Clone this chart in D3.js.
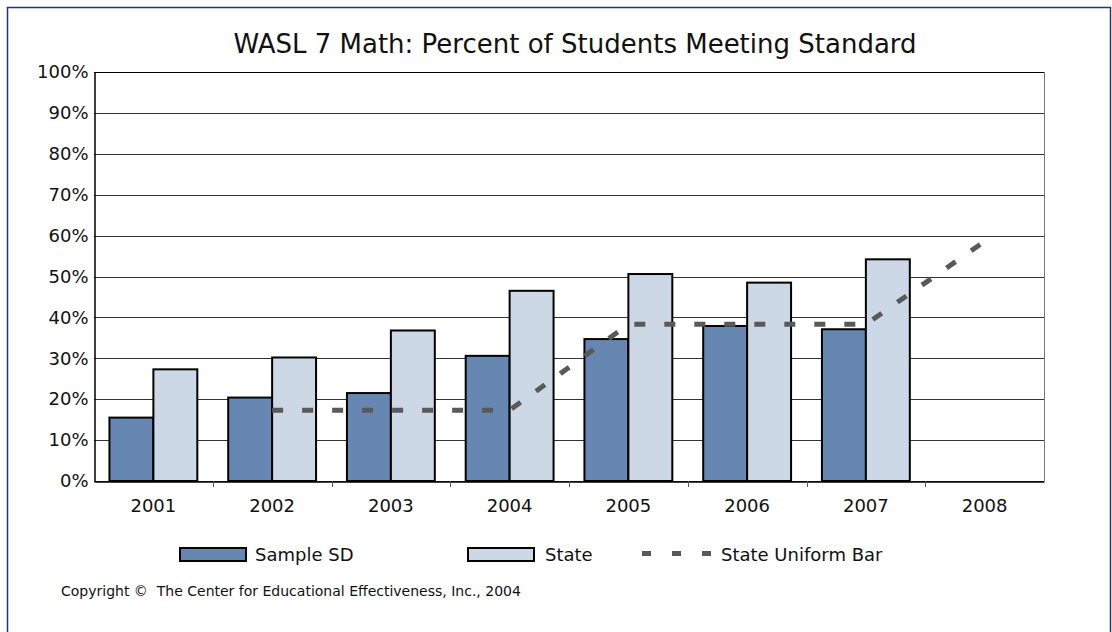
<!DOCTYPE html>
<html>
<head>
<meta charset="utf-8">
<script src="https://cdn.jsdelivr.net/npm/d3@7"></script>
<style>
  body { margin: 0; background: #fff; }
  svg { display: block; font-family: "DejaVu Sans", Verdana, sans-serif; }
</style>
</head>
<body>
<svg id="chart" width="1112" height="632"></svg>
<script>
// Chart data
const years = ['2001', '2002', '2003', '2004', '2005', '2006', '2007', '2008'];
const sampleSD = [15.5, 20.4, 21.5, 30.6, 34.7, 37.9, 37.1, null];
const stateVals = [27.3, 30.2, 36.8, 46.5, 50.6, 48.5, 54.2, null];
const uniformBar = [null, 17.3, 17.3, 17.3, 38.3, 38.3, 38.3, 58.6];
const yTicks = [0, 10, 20, 30, 40, 50, 60, 70, 80, 90, 100];

const svg = d3.select('#chart');
const plot = { left: 94, right: 1044, top: 72, bottom: 481 };

// Outer frame
svg.append('rect')
    .attr('x', 7.5).attr('y', 7.5)
    .attr('width', 1103).attr('height', 640)
    .attr('fill', '#fff')
    .attr('stroke', '#1c3a78')
    .attr('stroke-width', 1.5);

// Scales
const x = d3.scaleBand()
    .domain(years)
    .range([plot.left, plot.right])
    .paddingInner(0.26)
    .paddingOuter(0.13);
const step = x.step();

const xSeries = d3.scaleBand()
    .domain(['sd', 'state'])
    .range([0, x.bandwidth()]);

const y = d3.scaleLinear()
    .domain([0, 100])
    .range([plot.bottom, plot.top]);

// Title
svg.append('text')
    .attr('x', 575).attr('y', 53)
    .attr('text-anchor', 'middle')
    .attr('font-size', 26)
    .attr('fill', '#111')
    .text('WASL 7 Math: Percent of Students Meeting Standard');

// Gridlines
svg.append('g')
    .selectAll('line')
    .data(yTicks)
    .join('line')
    .attr('x1', plot.left).attr('x2', plot.right)
    .attr('y1', d => Math.round(y(d)) + 0.5)
    .attr('y2', d => Math.round(y(d)) + 0.5)
    .attr('stroke', d => d === 100 ? '#000' : '#333')
    .attr('stroke-width', 1);

// Right border of plot area
svg.append('line')
    .attr('x1', plot.right + 0.5).attr('x2', plot.right + 0.5)
    .attr('y1', plot.top).attr('y2', plot.bottom)
    .attr('stroke', '#777');

// Y axis
const yAxis = svg.append('g')
    .attr('transform', `translate(${plot.left + 0.5},0)`)
    .call(d3.axisLeft(y).tickValues(yTicks).tickSize(0).tickPadding(6).tickFormat(d => d + '%'));
yAxis.select('.domain').attr('stroke', '#000').attr('stroke-width', 1.5);
yAxis.selectAll('text')
    .attr('font-size', 18)
    .attr('fill', '#111')
    .attr('font-family', '"DejaVu Sans", Verdana, sans-serif');

// Bars
const groups = svg.append('g')
    .selectAll('g')
    .data(years)
    .join('g')
    .attr('transform', d => `translate(${x(d)},0)`);

groups.append('rect')
    .attr('x', xSeries('sd'))
    .attr('width', xSeries.bandwidth())
    .attr('y', (d, i) => y(sampleSD[i] || 0))
    .attr('height', (d, i) => y(0) - y(sampleSD[i] || 0))
    .attr('display', (d, i) => sampleSD[i] == null ? 'none' : null)
    .attr('fill', '#6787b3')
    .attr('stroke', '#000')
    .attr('stroke-width', 2);

groups.append('rect')
    .attr('x', xSeries('state'))
    .attr('width', xSeries.bandwidth())
    .attr('y', (d, i) => y(stateVals[i] || 0))
    .attr('height', (d, i) => y(0) - y(stateVals[i] || 0))
    .attr('display', (d, i) => stateVals[i] == null ? 'none' : null)
    .attr('fill', '#cdd8e6')
    .attr('stroke', '#000')
    .attr('stroke-width', 2);

// X axis
const xAxis = svg.append('g')
    .attr('transform', `translate(0,${plot.bottom + 0.5})`)
    .call(d3.axisBottom(x).tickSize(0).tickPadding(18));
xAxis.select('.domain').attr('stroke', '#000').attr('stroke-width', 1.5);
xAxis.selectAll('text')
    .attr('font-size', 18)
    .attr('fill', '#111')
    .attr('font-family', '"DejaVu Sans", Verdana, sans-serif');

// Category boundary ticks
svg.append('g')
    .selectAll('line')
    .data(d3.range(1, years.length))
    .join('line')
    .attr('x1', i => Math.round(plot.left + i * step) + 0.5)
    .attr('x2', i => Math.round(plot.left + i * step) + 0.5)
    .attr('y1', plot.bottom)
    .attr('y2', plot.bottom + 6)
    .attr('stroke', '#555');

// State Uniform Bar line
const line = d3.line()
    .defined(d => d != null)
    .x((d, i) => x(years[i]) + x.bandwidth() / 2)
    .y(d => y(d));

svg.append('path')
    .datum(uniformBar)
    .attr('d', line)
    .attr('fill', 'none')
    .attr('stroke', '#595959')
    .attr('stroke-width', 5)
    .attr('stroke-dasharray', '11,19');

// Legend
const legend = svg.append('g').attr('font-size', 18).attr('fill', '#111');

legend.append('rect')
    .attr('x', 180).attr('y', 548).attr('width', 66).attr('height', 13)
    .attr('fill', '#6787b3').attr('stroke', '#000').attr('stroke-width', 2);
legend.append('text').attr('x', 255).attr('y', 561).text('Sample SD');

legend.append('rect')
    .attr('x', 468).attr('y', 548).attr('width', 66).attr('height', 13)
    .attr('fill', '#cdd8e6').attr('stroke', '#000').attr('stroke-width', 2);
legend.append('text').attr('x', 545).attr('y', 561).text('State');

legend.append('line')
    .attr('x1', 642).attr('x2', 712).attr('y1', 553.5).attr('y2', 553.5)
    .attr('stroke', '#595959').attr('stroke-width', 5)
    .attr('stroke-dasharray', '9,21');
legend.append('text').attr('x', 721).attr('y', 561).text('State Uniform Bar');

// Copyright
svg.append('text')
    .attr('x', 61).attr('y', 596)
    .attr('font-size', 14)
    .attr('fill', '#111')
    .style('white-space', 'pre')
    .text('Copyright \u00A9  The Center for Educational Effectiveness, Inc., 2004');
</script>
</body>
</html>
